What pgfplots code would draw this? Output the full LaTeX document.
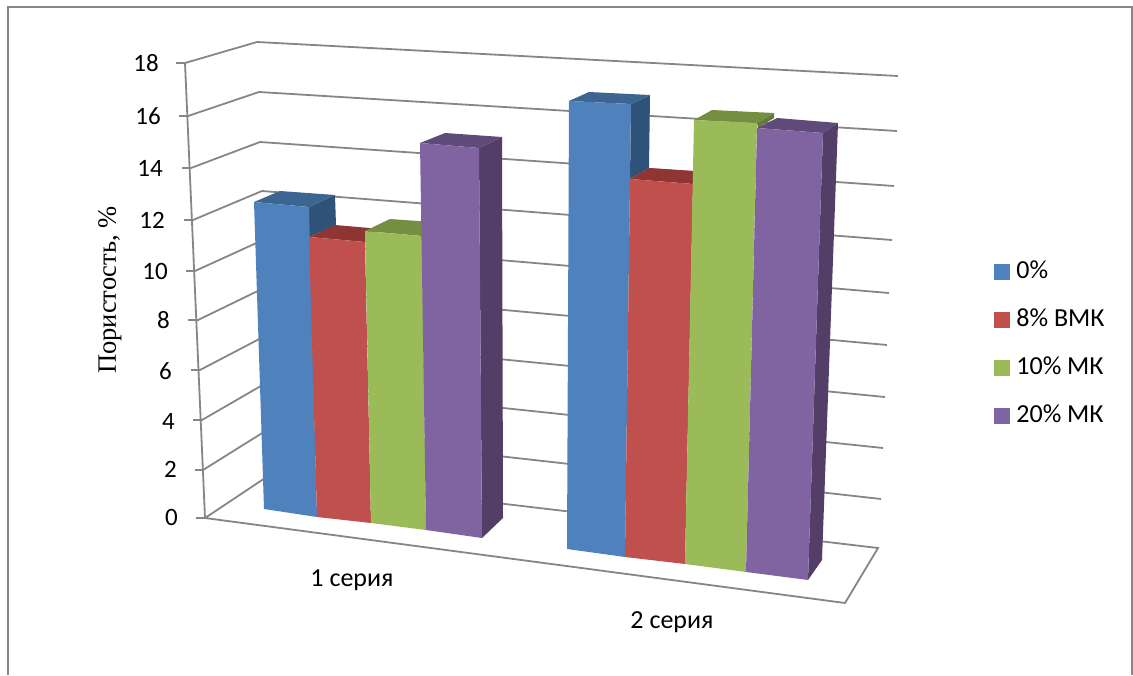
\documentclass[border=0pt]{standalone}
\usepackage{pgfplots}
\pgfplotsset{compat=1.18}
\usepackage{fontspec}
\setmainfont{Carlito}
\newfontfamily\serifcyr{Liberation Serif}
\definecolor{frameg}{HTML}{868686}
\definecolor{bluef}{HTML}{4F81BD}\definecolor{bluet}{HTML}{3C6591}\definecolor{blues}{HTML}{2F5279}
\definecolor{redf}{HTML}{C0504D}\definecolor{redt}{HTML}{8F3634}
\definecolor{greenf}{HTML}{9BBB59}\definecolor{greent}{HTML}{758E41}\definecolor{greens}{HTML}{647A38}
\definecolor{purpf}{HTML}{8064A2}\definecolor{purpt}{HTML}{5F4B7A}\definecolor{purps}{HTML}{533E67}
\tikzset{lab/.style={inner sep=0pt,font=\fontsize{26}{30}\selectfont},tick/.style={inner sep=0pt,font=\fontsize{25}{30}\selectfont,anchor=east}}
\pgfplotsset{
  face/.style={fill=#1,draw=none,no markers,forget plot},
  rule/.style={draw=frameg,line width=1.8pt,no markers,forget plot},
  swatch/.style={legend image code/.code={\fill[#1] (0pt,-7.5pt) rectangle (15pt,7.5pt);}},
}
\begin{document}
\begin{tikzpicture}
\begin{axis}[
  scale only axis,width=1133pt,height=675pt,
  xmin=0,xmax=1133,ymin=0,ymax=675,y dir=reverse,hide axis,
  legend style={at={(axis cs:994,261)},anchor=north west,draw=none,fill=none,inner sep=0pt,outer sep=0pt,
    font=\fontsize{26}{30}\selectfont,nodes={inner sep=0pt,text height=17pt,text depth=4pt},/tikz/row sep=27pt,/tikz/column sep=7pt},
  legend cell align=left,
]
% full extent of the picture
\path (axis cs:0,0) rectangle (axis cs:1133,675);

% outer frame of the chart area
\addplot[rule,line width=2pt] coordinates {(8,675)(8,6.5)(1131.5,6.5)(1131.5,675)};

% floor
\addplot[rule] coordinates {(196,518)(205,518)(845,603)(878,548)(268,476)(205,518)};

% vertical axis
\addplot[rule] coordinates {(185,63)(205,518)};

% gridlines: tick, side wall, back wall; one line for each level 18, 16, ... 2
\addplot[rule] coordinates {(176,63)(185,63)(257,42)(898,76)};
\addplot[rule] coordinates {(179,116)(188,116)(259,92)(897,131)};
\addplot[rule] coordinates {(182,168)(191,168)(260,142)(894,186)};
\addplot[rule] coordinates {(184,220)(193,220)(262,191)(892,240)};
\addplot[rule] coordinates {(186,271)(195,271)(263,240)(889,293)};
\addplot[rule] coordinates {(188,320)(198,320)(264,288)(887,345)};
\addplot[rule] coordinates {(191,370)(200,370)(265,336)(885,397)};
\addplot[rule] coordinates {(193,420)(202,420)(266,383)(883,448)};
\addplot[rule] coordinates {(195,470)(203,470)(267,430)(881,499)};

% group "1 серия"
\addplot[face=blues] coordinates {(309,207)(335,195)(336,225)(309,237)} --cycle;
\addplot[face=bluet] coordinates {(254,202)(280,191)(335,195)(309,207)} --cycle;
\addplot[face=bluef] coordinates {(254,202)(309,207)(317,517)(264,509)} --cycle;

\addplot[face=redt] coordinates {(309,237)(335,225)(381,229)(365,242)} --cycle;
\addplot[face=redf] coordinates {(309,237)(365,242)(371,523)(317,517)} --cycle;

\addplot[face=greent] coordinates {(365,231)(390,219)(446,223)(422,236)} --cycle;
\addplot[face=greenf] coordinates {(365,231)(422,236)(426,530)(371,523)} --cycle;

\addplot[face=purps] coordinates {(479,148)(502,137)(503,518)(482,538)} --cycle;
\addplot[face=purpt] coordinates {(420,143)(445,133)(502,137)(479,148)} --cycle;
\addplot[face=purpf] coordinates {(420,143)(479,148)(482,538)(426,530)} --cycle;

% group "2 серия"
\addplot[face=blues] coordinates {(631,104)(650,95)(649,168)(630,179)} --cycle;
\addplot[face=bluet] coordinates {(569,101)(589,92)(650,95)(631,104)} --cycle;
\addplot[face=bluef] coordinates {(569,101)(631,104)(625,557)(567,549)} --cycle;

\addplot[face=redt] coordinates {(630,179)(649,168)(710,172)(693,184)} --cycle;
\addplot[face=redf] coordinates {(630,179)(693,184)(685,564)(625,557)} --cycle;

\addplot[face=greens] coordinates {(757,123)(774,113)(774,118)(758,128)} --cycle;
\addplot[face=greent] coordinates {(694,120)(712,110)(774,113)(757,123)} --cycle;
\addplot[face=greenf] coordinates {(694,120)(757,123)(746,572)(685,564)} --cycle;

\addplot[face=purps] coordinates {(823,133)(838,123)(822,560)(808,580)} --cycle;
\addplot[face=purpt] coordinates {(757,128)(777,118)(838,123)(823,133)} --cycle;
\addplot[face=purpf] coordinates {(757,128)(823,133)(808,580)(746,572)} --cycle;

% legend
\addlegendimage{swatch={bluef}}\addlegendentry{0\%}
\addlegendimage{swatch={redf}}\addlegendentry{8\% ВМК}
\addlegendimage{swatch={greenf}}\addlegendentry{10\% МК}
\addlegendimage{swatch={purpf}}\addlegendentry{20\% МК}

% value labels of the vertical axis
\node[tick] at (axis cs:159,63) {18};
\node[tick] at (axis cs:161,116) {16};
\node[tick] at (axis cs:163,168) {14};
\node[tick] at (axis cs:165,220) {12};
\node[tick] at (axis cs:168,271) {10};
\node[tick] at (axis cs:170,320) {8};
\node[tick] at (axis cs:172,371) {6};
\node[tick] at (axis cs:175,421) {4};
\node[tick] at (axis cs:177,469) {2};
\node[tick] at (axis cs:178,517) {0};
% category names
\node[lab] at (axis cs:352,580) {1 серия};
\node[lab] at (axis cs:672,622) {2 серия};
% quantity on the vertical axis
\node[rotate=90,inner sep=0pt,font=\fontsize{26.5}{30}\selectfont\serifcyr] at (axis cs:110,290) {Пористость, \%};
\end{axis}
\end{tikzpicture}
\end{document}
